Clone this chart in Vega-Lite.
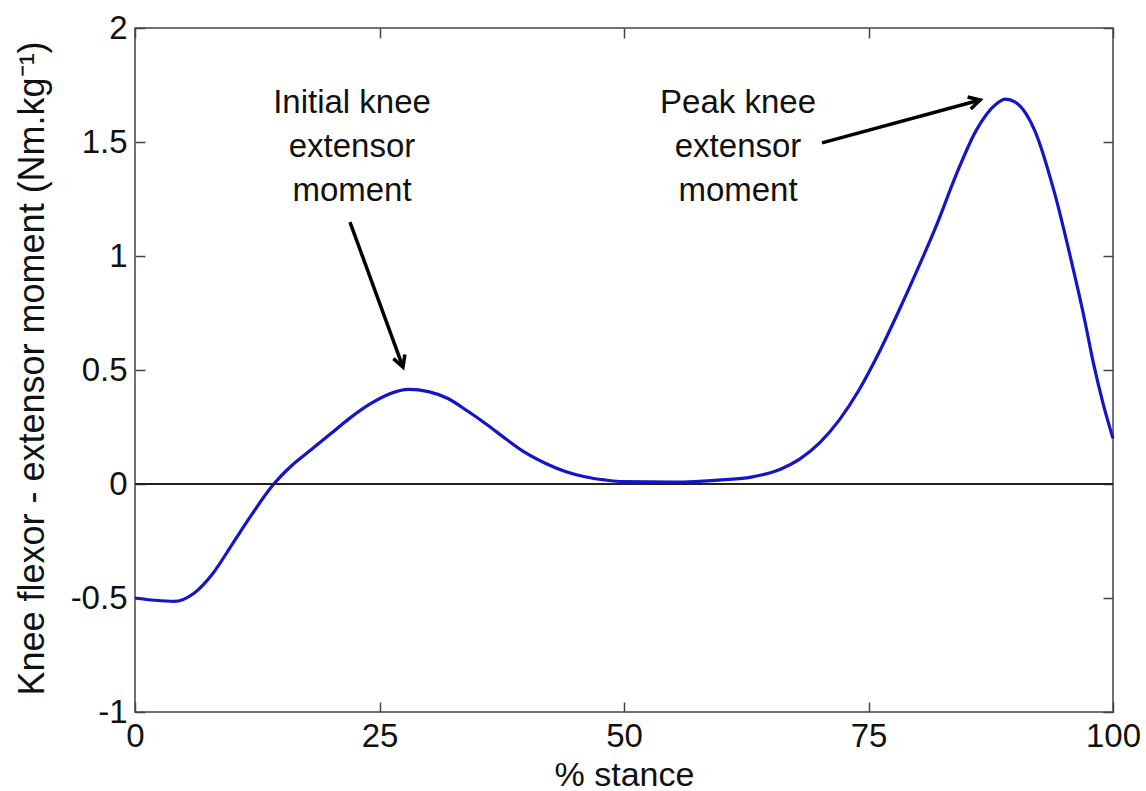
{
  "$schema": "https://vega.github.io/schema/vega-lite/v6.json",
  "autosize": "none",
  "width": 978,
  "height": 684,
  "padding": {"left": 135, "top": 28, "right": 33, "bottom": 79},
  "background": "white",
  "config": {
    "view": {"stroke": "#444", "strokeWidth": 1.5},
    "font": "Liberation Sans",
    "axis": {"grid": false, "domain": false, "tickColor": "#444", "tickWidth": 1.5, "labelFont": "Liberation Sans", "labelFontSize": 33, "labelColor": "#111", "labelFlush": false, "titleFont": "Liberation Sans", "titleFontWeight": "normal", "titleColor": "#111"}
  },
  "data": {"values": [
    {"stance": 0, "moment": -0.5},
    {"stance": 2, "moment": -0.51},
    {"stance": 4, "moment": -0.515},
    {"stance": 6, "moment": -0.48},
    {"stance": 8, "moment": -0.39},
    {"stance": 10, "moment": -0.26},
    {"stance": 12, "moment": -0.13},
    {"stance": 14, "moment": -0.01},
    {"stance": 16, "moment": 0.08},
    {"stance": 18, "moment": 0.15},
    {"stance": 20, "moment": 0.22},
    {"stance": 22, "moment": 0.29},
    {"stance": 24, "moment": 0.35},
    {"stance": 26, "moment": 0.395},
    {"stance": 28, "moment": 0.415},
    {"stance": 30, "moment": 0.405},
    {"stance": 32, "moment": 0.375},
    {"stance": 34, "moment": 0.32},
    {"stance": 36, "moment": 0.26},
    {"stance": 38, "moment": 0.195},
    {"stance": 40, "moment": 0.135},
    {"stance": 42, "moment": 0.09},
    {"stance": 44, "moment": 0.055},
    {"stance": 46, "moment": 0.032},
    {"stance": 48, "moment": 0.018},
    {"stance": 50, "moment": 0.01},
    {"stance": 55, "moment": 0.008},
    {"stance": 60, "moment": 0.018},
    {"stance": 63, "moment": 0.03},
    {"stance": 66, "moment": 0.065},
    {"stance": 68, "moment": 0.11},
    {"stance": 70, "moment": 0.18},
    {"stance": 72, "moment": 0.28},
    {"stance": 74, "moment": 0.41},
    {"stance": 76, "moment": 0.57},
    {"stance": 78, "moment": 0.75},
    {"stance": 80, "moment": 0.94},
    {"stance": 82, "moment": 1.14},
    {"stance": 84, "moment": 1.36},
    {"stance": 86, "moment": 1.55},
    {"stance": 88, "moment": 1.665},
    {"stance": 89, "moment": 1.688},
    {"stance": 90, "moment": 1.675},
    {"stance": 92, "moment": 1.55},
    {"stance": 94, "moment": 1.28},
    {"stance": 96, "moment": 0.93},
    {"stance": 97, "moment": 0.74},
    {"stance": 98, "moment": 0.53},
    {"stance": 99, "moment": 0.35},
    {"stance": 100, "moment": 0.2}
  ]},
  "layer": [
    {
      "mark": {"type": "line", "color": "#1414c8", "strokeWidth": 3.2, "interpolate": "monotone"},
      "encoding": {
        "x": {"field": "stance", "type": "quantitative", "scale": {"domain": [0, 100], "nice": false}, "axis": {"values": [0, 25, 50, 75, 100], "tickSize": -10, "labelPadding": 18, "labelExpr": "datum.value + ''", "title": "% stance", "titleFontSize": 34, "titleX": 489, "titleY": 63, "titleBaseline": "middle"}},
        "y": {"field": "moment", "type": "quantitative", "scale": {"domain": [-1, 2], "nice": false}, "axis": {"values": [-1, -0.5, 0, 0.5, 1, 1.5, 2], "tickSize": -10, "labelPadding": 18, "labelExpr": "datum.value + ''", "title": "Knee flexor - extensor moment (Nm.kg⁻¹)", "titleFontSize": 36, "titleX": -103, "titleY": 340, "titleAngle": -90, "titleAlign": "center", "titleBaseline": "middle"}}
      }
    },
    {
      "mark": {"type": "point", "opacity": 0},
      "encoding": {
        "x": {"field": "stance", "type": "quantitative", "axis": {"orient": "top", "values": [0, 25, 50, 75, 100], "tickSize": -10, "labels": false, "title": null}},
        "y": {"field": "moment", "type": "quantitative", "axis": {"orient": "right", "values": [-1, -0.5, 0, 0.5, 1, 1.5, 2], "tickSize": -10, "labels": false, "title": null}}
      }
    },
    {
      "mark": {"type": "rule", "color": "#222", "strokeWidth": 1.3},
      "encoding": {"y": {"datum": 0, "type": "quantitative", "axis": null}}
    },
    {
      "data": {"values": [
        {"arrow": "initial", "stance": 21.98, "moment": 1.149},
        {"arrow": "initial", "stance": 27.4, "moment": 0.513},
        {"arrow": "peak", "stance": 70.25, "moment": 1.496},
        {"arrow": "peak", "stance": 86.4, "moment": 1.684}
      ]},
      "mark": {"type": "line", "color": "black", "strokeWidth": 3.5},
      "encoding": {
        "x": {"field": "stance", "type": "quantitative", "axis": null},
        "y": {"field": "moment", "type": "quantitative", "axis": null},
        "detail": {"field": "arrow"}
      }
    },
    {
      "data": {"values": [{"stance": 27.4, "moment": 0.513}]},
      "mark": {"type": "point", "shape": "M-1,-0.55L0,0L-1,0.55", "filled": false, "stroke": "black", "strokeWidth": 3.5, "opacity": 1, "size": 500, "angle": 69.9},
      "encoding": {
        "x": {"field": "stance", "type": "quantitative", "axis": null},
        "y": {"field": "moment", "type": "quantitative", "axis": null}
      }
    },
    {
      "data": {"values": [{"stance": 86.4, "moment": 1.684}]},
      "mark": {"type": "point", "shape": "M-1,-0.55L0,0L-1,0.55", "filled": false, "stroke": "black", "strokeWidth": 3.5, "opacity": 1, "size": 500, "angle": 344.8},
      "encoding": {
        "x": {"field": "stance", "type": "quantitative", "axis": null},
        "y": {"field": "moment", "type": "quantitative", "axis": null}
      }
    },
    {
      "data": {"values": [
        {"label": ["Initial knee", "extensor", "moment"], "stance": 22.19, "moment": 1.671},
        {"label": ["Peak knee", "extensor", "moment"], "stance": 61.66, "moment": 1.671}
      ]},
      "mark": {"type": "text", "fontSize": 33, "lineHeight": 44, "align": "center", "baseline": "middle", "color": "#111", "font": "Liberation Sans"},
      "encoding": {
        "x": {"field": "stance", "type": "quantitative", "axis": null},
        "y": {"field": "moment", "type": "quantitative", "axis": null},
        "text": {"field": "label"}
      }
    }
  ],
  "resolve": {"axis": {"x": "independent", "y": "independent"}}
}
